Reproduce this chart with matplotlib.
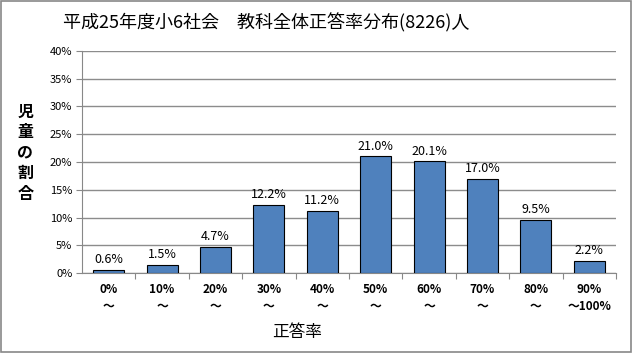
import matplotlib.pyplot as plt
from matplotlib.patches import Rectangle

plt.rcParams['font.family'] = ['Noto Sans CJK JP', 'DejaVu Sans']

categories = ['0%\n～', '10%\n～', '20%\n～', '30%\n～', '40%\n～',
              '50%\n～', '60%\n～', '70%\n～', '80%\n～', '90%\n～100%']
values = [0.6, 1.5, 4.7, 12.2, 11.2, 21.0, 20.1, 17.0, 9.5, 2.2]
yticks = [0, 5, 10, 15, 20, 25, 30, 35, 40]

fig = plt.figure(figsize=(6.33, 3.53), dpi=100)
ax = fig.add_axes([0.1295, 0.2266, 0.8436, 0.629])

x = range(len(values))
ax.set_axisbelow(True)
ax.yaxis.grid(True, color='#8c8c8c', linewidth=1)
ax.bar(x, values, width=0.58, color='#4F81BD', edgecolor='black', linewidth=0.8, zorder=3)
for i, v in zip(x, values):
    ax.text(i, v + 0.7, '%.1f%%' % v, ha='center', va='bottom', fontsize=9)

ax.set_xlim(-0.5, len(values) - 0.5)
ax.set_ylim(0, 40)
ax.set_yticks(yticks)
ax.set_yticklabels(['%d%%' % t for t in yticks], fontsize=8)
ax.set_xticks([i + 0.5 for i in range(len(values))])
ax.set_xticklabels([])
ax.set_xticks(list(x), minor=True)
ax.set_xticklabels(categories, minor=True, fontsize=8.5, fontweight='bold', linespacing=1.4)
ax.tick_params(axis='x', which='minor', length=0, pad=7)
ax.tick_params(axis='x', which='major', length=4, color='#888888', direction='out')
ax.tick_params(axis='y', length=4, color='#888888', direction='out', pad=3)

for s in ['top', 'right']:
    ax.spines[s].set_visible(False)
ax.spines['left'].set_color('#888888')
ax.spines['bottom'].set_color('#888888')

fig.text(0.42, 0.936, '平成25年度小6社会　教科全体正答率分布(8226)人', ha='center', va='center', fontsize=13)
fig.text(0.04, 0.567, '\n'.join('児童の割合'), ha='center', va='center', fontsize=11.5,
         fontweight='bold', linespacing=1.35)
fig.text(0.47, 0.057, '正答率', ha='center', va='center', fontsize=12)

fig.patches.append(Rectangle((0.002, 0.003), 0.995, 0.994, transform=fig.transFigure,
                             fill=False, edgecolor='#888888', linewidth=1.2))

fig.savefig('out.png', dpi=100)
